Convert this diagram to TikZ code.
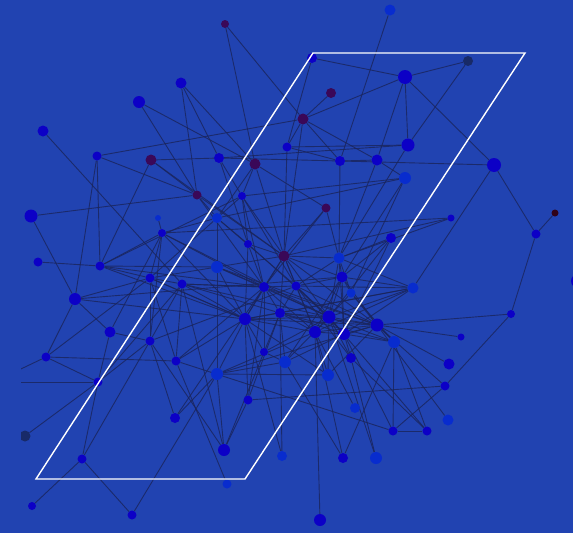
\documentclass[tikz,border=0pt]{standalone}
\usepackage{tikz}
\pgfdeclarelayer{back}
\pgfdeclarelayer{links}
\pgfsetlayers{back,links,main}
\definecolor{backblue}{RGB}{33,67,177}
\definecolor{nodeblue}{RGB}{12,0,198}
\definecolor{nodelight}{RGB}{8,44,206}
\definecolor{nodeplum}{RGB}{58,8,88}
\definecolor{nodenavy}{RGB}{24,42,104}
\definecolor{nodemaroon}{RGB}{48,2,24}
\definecolor{linkgrey}{RGB}{26,36,90}
\tikzstyle{vertex} = [circle, inner sep=0pt, draw=none, minimum size=10pt]
\tikzstyle{vblue} = [vertex, fill=nodeblue]
\tikzstyle{vlight} = [vertex, fill=nodelight]
\tikzstyle{vplum} = [vertex, fill=nodeplum]
\tikzstyle{vnavy} = [vertex, fill=nodenavy]
\tikzstyle{vmaroon} = [vertex, fill=nodemaroon]
\tikzstyle{link} = [draw=linkgrey, line width=0.9pt, opacity=0.8]
\tikzstyle{frame} = [draw=white, line width=1.4pt]

\begin{document}
\begin{tikzpicture}[x=1pt, y=-1pt]

\begin{pgfonlayer}{back}
\fill [backblue] (0,0) rectangle (573,533);
\end{pgfonlayer}
\useasboundingbox (0,0) rectangle (573,533);

\begin{scope}
\clip (21,0) rectangle (573,533);
\node (v1) [vplum, minimum size=8pt] at (225,24) {};
\node (v2) [vlight, minimum size=11pt] at (390,10) {};
\node (v3) [vblue] at (312,58) {};
\node (v4) [vblue, minimum size=14pt] at (405,77) {};
\node (v5) [vnavy] at (468,61) {};
\node (v6) [vplum] at (331,93) {};
\node (v7) [vplum, minimum size=11pt] at (303,119) {};
\node (v8) [vblue, minimum size=11pt] at (181,83) {};
\node (v9) [vblue, minimum size=12pt] at (139,102) {};
\node (v10) [vblue, minimum size=11pt] at (43,131) {};
\node (v11) [vblue, minimum size=9pt] at (97,156) {};
\node (v12) [vplum, minimum size=11pt] at (151,160) {};
\node (v13) [vblue] at (219,158) {};
\node (v14) [vplum, minimum size=11pt] at (255,164) {};
\node (v15) [vblue, minimum size=9pt] at (287,147) {};
\node (v16) [vblue] at (340,161) {};
\node (v17) [vblue, minimum size=11pt] at (377,160) {};
\node (v18) [vblue, minimum size=13pt] at (408,145) {};
\node (v19) [vlight, minimum size=12pt] at (405,178) {};
\node (v20) [vblue, minimum size=14pt] at (494,165) {};
\node (v21) [vmaroon, minimum size=7pt] at (555,213) {};
\node (v22) [vblue, minimum size=9pt] at (536,234) {};
\node (v23) [vplum, minimum size=9pt] at (197,195) {};
\node (v24) [vblue, minimum size=8pt] at (242,196) {};
\node (v25) [vlight, minimum size=6pt] at (158,218) {};
\node (v26) [vblue, minimum size=8pt] at (162,233) {};
\node (v27) [vlight] at (217,218) {};
\node (v28) [vplum, minimum size=9pt] at (326,208) {};
\node (v29) [vblue, minimum size=7pt] at (451,218) {};
\node (v30) [vblue] at (391,238) {};
\node (v31) [vblue, minimum size=13pt] at (31,216) {};
\node (v32) [vblue, minimum size=9pt] at (38,262) {};
\node (v33) [vblue, minimum size=9pt] at (100,266) {};
\node (v34) [vblue, minimum size=8pt] at (248,244) {};
\node (v35) [vplum, minimum size=11pt] at (284,256) {};
\node (v36) [vlight, minimum size=11pt] at (339,258) {};
\node (v37) [vblue, minimum size=9pt] at (150,278) {};
\node (v38) [vblue, minimum size=9pt] at (182,284) {};
\node (v39) [vlight, minimum size=12pt] at (217,267) {};
\node (v40) [vblue] at (264,287) {};
\node (v41) [vblue, minimum size=9pt] at (296,286) {};
\node (v42) [vblue, minimum size=11pt] at (342,277) {};
\node (v43) [vlight, minimum size=9pt] at (351,293) {};
\node (v44) [vlight, minimum size=11pt] at (413,288) {};
\node (v45) [vblue, minimum size=12pt] at (75,299) {};
\node (v46) [vblue, minimum size=11pt] at (110,332) {};
\node (v47) [vblue, minimum size=12pt] at (245,319) {};
\node (v48) [vblue] at (280,313) {};
\node (v49) [vblue, minimum size=13pt] at (329,317) {};
\node (v50) [vblue, minimum size=12pt] at (315,332) {};
\node (v51) [vblue, minimum size=12pt] at (344,334) {};
\node (v52) [vblue, minimum size=13pt] at (377,325) {};
\node (v53) [vlight, minimum size=12pt] at (394,342) {};
\node (v54) [vblue, minimum size=7pt] at (461,337) {};
\node (v55) [vblue, minimum size=8pt] at (511,314) {};
\node (v56) [vblue, minimum size=9pt] at (150,341) {};
\node (v57) [vblue, minimum size=8pt] at (264,352) {};
\node (v58) [vlight, minimum size=12pt] at (285,362) {};
\node (v59) [vblue, minimum size=9pt] at (46,357) {};
\node (v60) [vblue, minimum size=9pt] at (176,361) {};
\node (v61) [vlight, minimum size=12pt] at (217,374) {};
\node (v62) [vlight, minimum size=12pt] at (328,375) {};
\node (v63) [vblue] at (351,358) {};
\node (v64) [vblue, minimum size=11pt] at (449,364) {};
\node (v65) [vblue, minimum size=9pt] at (98,382) {};
\node (v66) [vblue, minimum size=9pt] at (445,386) {};
\node (v67) [vblue, minimum size=9pt] at (248,400) {};
\node (v68) [vlight] at (355,408) {};
\node (v69) [vblue] at (175,418) {};
\node (v70) [vblue, minimum size=9pt] at (393,431) {};
\node (v71) [vblue, minimum size=9pt] at (427,431) {};
\node (v72) [vlight, minimum size=11pt] at (448,420) {};
\node (v73) [vnavy, minimum size=11pt] at (25,436) {};
\node (v74) [vblue, minimum size=9pt] at (82,459) {};
\node (v75) [vblue, minimum size=12pt] at (224,450) {};
\node (v76) [vlight] at (282,456) {};
\node (v77) [vblue] at (343,458) {};
\node (v78) [vlight, minimum size=12pt] at (376,458) {};
\node (v79) [vlight, minimum size=9pt] at (227,484) {};
\node (v80) [vblue, minimum size=8pt] at (32,506) {};
\node (v81) [vblue, minimum size=9pt] at (132,515) {};
\node (v82) [vblue, minimum size=12pt] at (320,520) {};
\node (v83) [vblue, minimum size=14pt] at (578,281) {};
\coordinate (w1) at (-40,382);
\coordinate (w2) at (-40,398);

% links between the vertices
\begin{pgfonlayer}{links}
\clip (21,0) rectangle (573,533);
\foreach \a/\b in {1/7,1/14,2/16,3/4,3/15,4/5,4/7,4/17,4/18,4/20,5/18,6/7,
  7/15,7/16,7/17,7/11,7/35,13/16,15/18,15/16,16/17,16/20,16/36,17/19,17/36,
  18/36,18/13,19/24,19/27,19/42,20/22,20/44,21/22,22/55,28/35,28/40,28/14,
  29/36,29/26,30/36,30/42,8/13,8/14,8/23,9/23,9/14,10/38,11/23,11/33,11/45,
  12/13,12/23,12/33,12/35,31/23,31/45,32/33,33/26,33/24,33/39,33/37,33/40,
  45/46,45/37,45/47,45/42,46/56,46/65,46/26,65/56,65/38,56/38,56/37,56/26,
  56/41,60/37,60/38,60/40,60/47,61/47,61/39,61/50,67/47,67/48,67/66,67/40,
  69/61,69/56,69/40,75/38,75/56,75/61,75/67,75/48,79/60,81/61,74/80,74/81,
  74/65,74/56,73/65,59/65,59/45,59/60,59/37,70/66,70/71,70/51,70/53,70/60,
  71/53,71/49,71/63,72/52,77/53,77/50,77/58,78/49,78/63,76/47,76/48,68/50,
  82/50,55/52,55/66,54/52,64/52,66/52,44/41,44/49,44/42,44/48,44/36,62/52,
  62/61,62/47,63/49,63/41,57/47,57/40,57/58,58/48,58/61,58/42,34/35,34/40,
  34/27,34/47,35/40,35/41,35/42,35/47,35/49,35/36,35/39,35/48,35/50,36/42,
  36/41,36/43,39/40,39/47,39/37,40/41,40/47,40/48,40/49,40/38,41/42,41/49,
  41/48,41/51,42/43,42/49,42/51,42/52,43/52,43/49,47/48,47/49,47/50,47/38,
  47/37,48/49,48/50,48/51,49/50,49/51,49/52,49/53,50/51,50/62,51/52,51/53,
  51/63,52/53,24/27,24/34,24/35,24/40,27/26,27/37,27/39,26/37,26/47,26/40,
  25/26,23/35,23/27,23/40,13/34,13/24,14/24,14/35,14/27,15/35,37/38,37/47,
  38/40,38/49,28/36,19/43,26/49,39/52,43/53,29/35,35/52,40/52,41/52,47/52,
  48/52,48/53,50/52,41/50,40/50,36/49,36/51,42/50,38/48,39/49,24/41,27/41,
  34/49,44/50,44/51,44/47,30/49,30/51,58/49,58/51,62/49,57/49,61/52,33/47}
  \draw [link] (v\a) -- (v\b);
\draw [link] (w1) -- (v65);
\draw [link] (w2) -- (v59);
\end{pgfonlayer}
\end{scope}

\draw [frame] (36,479) -- (245,479) -- (525,53) -- (313,53) -- cycle;

\end{tikzpicture}
\end{document}
